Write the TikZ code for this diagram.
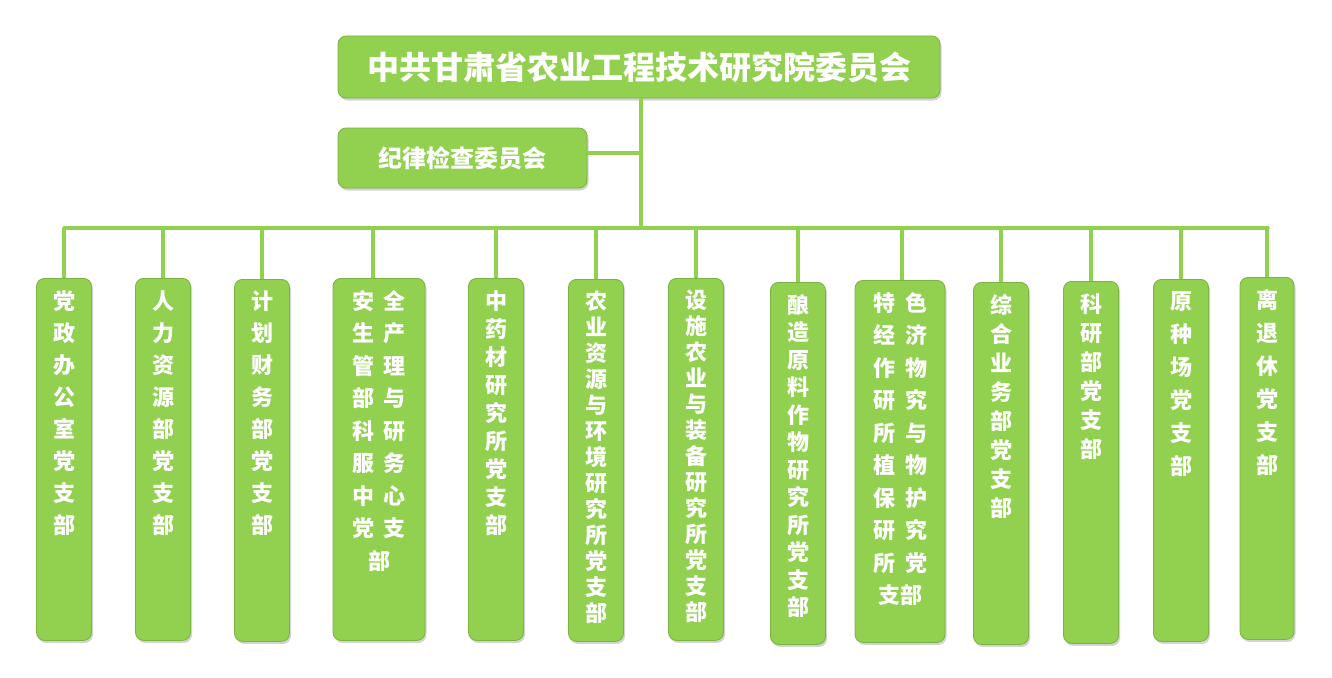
\documentclass[tikz,border=0pt]{standalone}
\usepackage{fontspec}
\setmainfont{Noto Sans CJK SC}
\usetikzlibrary{positioning,shadows}
\definecolor{leaf}{RGB}{146,208,80}
\tikzset{box/.style={draw=leaf!85!black,line width=0.8pt,fill=leaf,rounded corners=8pt,drop shadow={shadow xshift=1.5pt,shadow yshift=-2.5pt,opacity=0.35},text=white,font=\bfseries},
 branch/.style={box,anchor=north,minimum height=362pt,text depth=0pt,align=center},
 vtext/.style={anchor=north,text=white,font=\bfseries\fontsize{22}{#1}\selectfont,align=center,inner sep=0pt},
 vtext/.default=32.5,
 link/.style={draw=leaf,line width=3.5pt}}
\begin{document}
\begin{tikzpicture}[x=1pt,y=-1pt]
\useasboundingbox (0,0) rectangle (1332,677);
\node[box,minimum width=602pt,minimum height=62pt,font=\bfseries\fontsize{32}{36}\selectfont] (top) at (639,67) {中共甘肃省农业工程技术研究院委员会};
\node[box,minimum width=249pt,minimum height=60pt,font=\bfseries\fontsize{24}{28}\selectfont] (jw) at (462.5,158) {纪律检查委员会};
\coordinate (spine) at (641,228);
\coordinate (jwj) at (641,153);
\draw[link] (top.south -| spine) -- (spine);
\draw[link] (jw.east |- jwj) -- (jwj);
\draw[link,line cap=round] (64,228) -- (1268,228);
% branches
\foreach \x/\w/\t/\sp/\name/\txt in {
 64/55/278/32/b1/{党\\政\\办\\公\\室\\党\\支\\部},
 163/55/278/32/b2/{人\\力\\资\\源\\部\\党\\支\\部},
 262/55/279/32/b3/{计\\划\\财\\务\\部\\党\\支\\部},
 496/55/278/28/b5/{中\\药\\材\\研\\究\\所\\党\\支\\部},
 596/55/279/26/b6/{农\\业\\资\\源\\与\\环\\境\\研\\究\\所\\党\\支\\部},
 696/55/278/26/b7/{设\\施\\农\\业\\与\\装\\备\\研\\究\\所\\党\\支\\部},
 798/55/282/27.5/b8/{酿\\造\\原\\料\\作\\物\\研\\究\\所\\党\\支\\部},
 1001/55/282/29/b10/{综\\合\\业\\务\\部\\党\\支\\部},
 1091/55/281/29/b11/{科\\研\\部\\党\\支\\部},
 1181/55/279/33/b12/{原\\种\\场\\党\\支\\部},
 1267/54/277/33/b13/{离\\退\\休\\党\\支\\部}}{
 \node[branch,minimum width=\w pt,minimum height=362pt] (\name) at (\x,\t) {};
 \node[vtext=\sp] at ([yshift=-12pt]\name.north) {\txt};
 \draw[link] (\name.north |- spine) -- (\name.north);
}
\node[branch,minimum width=92pt] (b4) at (379,278) {};
\node[vtext] at ([yshift=-12pt]b4.north) {安\hspace{10pt}全\\生\hspace{10pt}产\\管\hspace{10pt}理\\部\hspace{10pt}与\\科\hspace{10pt}研\\服\hspace{10pt}务\\中\hspace{10pt}心\\党\hspace{10pt}支\\部\hspace{32pt}};
\draw[link] (373,228) -- (373,278);
\node[branch,minimum width=90pt] (b9) at (900,280) {};
\node[vtext] at ([yshift=-12pt]b9.north) {特\hspace{10pt}色\\经\hspace{10pt}济\\作\hspace{10pt}物\\研\hspace{10pt}究\\所\hspace{10pt}与\\植\hspace{10pt}物\\保\hspace{10pt}护\\研\hspace{10pt}究\\所\hspace{10pt}党\\支部\hspace{10pt}};
\draw[link] (902,228) -- (902,280);
\end{tikzpicture}
\end{document}
